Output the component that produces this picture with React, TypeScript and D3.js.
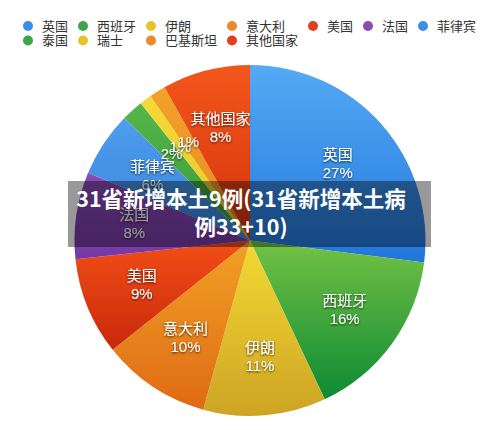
import React from "react";
import * as d3 from "d3";

const categories = ["英国", "西班牙", "伊朗", "意大利", "美国", "法国", "菲律宾", "泰国", "瑞士", "巴基斯坦", "其他国家"];
const values = [27, 16, 11.3, 10, 9, 8, 6, 2, 1.1, 1.5, 8.1];
const percentLabels = ["27%", "16%", "11%", "10%", "9%", "8%", "6%", "2%", "1%", "1%", "8%"];
const showName = [true, true, true, true, true, true, true, false, false, false, true];
const lightColors = ["#55aaf5", "#74c244", "#f3da33", "#f1a126", "#f24e16", "#8b4db5", "#4f9dec", "#55b64a", "#f5db35", "#f3a22a", "#f3561b"];
const darkColors = ["#2276da", "#0d8a34", "#cda424", "#df6a14", "#c8280c", "#7638a4", "#3883dc", "#399a3a", "#e6c52a", "#e8881f", "#d6340c"];
const legendColors = ["#3b8fe6", "#3ba548", "#e8c42c", "#ec8a2a", "#e0401e", "#8a4cb0", "#3b8fe6", "#3ba548", "#e8c42c", "#ec8a2a", "#e0401e"];
const legendRows = [
  ["英国", "西班牙", "伊朗", "意大利", "美国", "法国", "菲律宾"],
  ["泰国", "瑞士", "巴基斯坦", "其他国家"],
];
const titleLines = ["31省新增本土9例(31省新增本土病", "例33+10)"];

const W = 500;
const H = 430;
const cx = 250;
const cy = 240.5;
const R = 175.5;
const labelR = 117;
const font = "'Helvetica Neue', Helvetica, Arial, 'Noto Sans CJK SC', sans-serif";

export default function App() {
  const pie = d3.pie<number>().sort(null).value((d) => d);
  const arcs = pie(values);
  const arc = d3.arc<d3.PieArcDatum<number>>().innerRadius(0).outerRadius(R);
  const labelArc = d3.arc<d3.PieArcDatum<number>>().innerRadius(labelR).outerRadius(labelR);

  // legend columns: width based on the longest name per column
  const nCols = legendRows[0].length;
  const colWidths: number[] = [];
  for (let c = 0; c < nCols; c++) {
    let maxLen = 0;
    legendRows.forEach((row) => {
      if (row[c]) maxLen = Math.max(maxLen, row[c].length);
    });
    colWidths.push(14 + maxLen * 13 + 15);
  }
  const colX: number[] = [];
  let acc = 28;
  colWidths.forEach((w) => {
    colX.push(acc);
    acc += w;
  });

  return (
    <svg width={W} height={H} style={{ position: "fixed", left: 0, top: 0, background: "#fff" }}>
      <defs>
        {categories.map((c, i) => (
          <linearGradient key={c} id={`g${i}`} x1="0" y1="0" x2="0" y2="1">
            <stop offset="0%" stopColor={lightColors[i]} />
            <stop offset="100%" stopColor={darkColors[i]} />
          </linearGradient>
        ))}
        <filter id="ts" x="-20%" y="-30%" width="140%" height="160%">
          <feDropShadow dx="0" dy="1" stdDeviation="0.8" floodColor="#000" floodOpacity="0.75" />
        </filter>
      </defs>

      {/* legend */}
      {legendRows.map((row, r) =>
        row.map((name, c) => {
          const idx = categories.indexOf(name);
          const y = 26 + r * 14.5;
          return (
            <g key={name}>
              <circle cx={colX[c]} cy={y} r={5} fill={legendColors[idx]} />
              <text x={colX[c] + 14} y={y} dy="0.36em" fontSize={13} fill="#333" fontFamily={font}>
                {name}
              </text>
            </g>
          );
        })
      )}

      {/* pie */}
      <g transform={`translate(${cx},${cy})`}>
        {arcs.map((a, i) => (
          <path key={i} d={arc(a) || ""} fill={`url(#g${i})`} />
        ))}
        {arcs.map((a, i) => {
          const [lx, ly] = labelArc.centroid(a);
          const lines = showName[i] ? [categories[i], percentLabels[i]] : [percentLabels[i]];
          const off = (lines.length - 1) * 9;
          return (
            <text
              key={`l${i}`}
              x={lx}
              y={ly - off}
              textAnchor="middle"
              fontSize={15}
              fill="#fafafa"
              fontFamily={font}
              filter="url(#ts)"
            >
              {lines.map((t, k) => (
                <tspan key={k} x={lx} dy={k === 0 ? "0.36em" : 18}>
                  {t}
                </tspan>
              ))}
            </text>
          );
        })}
      </g>

      {/* title banner */}
      <rect x={68} y={181} width={363} height={66} fill="rgba(0,0,0,0.4)" />
      {titleLines.map((t, i) => (
        <text
          key={t}
          x={241}
          y={199 + i * 28}
          dy="0.36em"
          textAnchor="middle"
          fontSize={21.5}
          fontWeight={700}
          fill="#fff"
          fontFamily="'Noto Sans CJK SC', sans-serif"
        >
          {t}
        </text>
      ))}
    </svg>
  );
}
